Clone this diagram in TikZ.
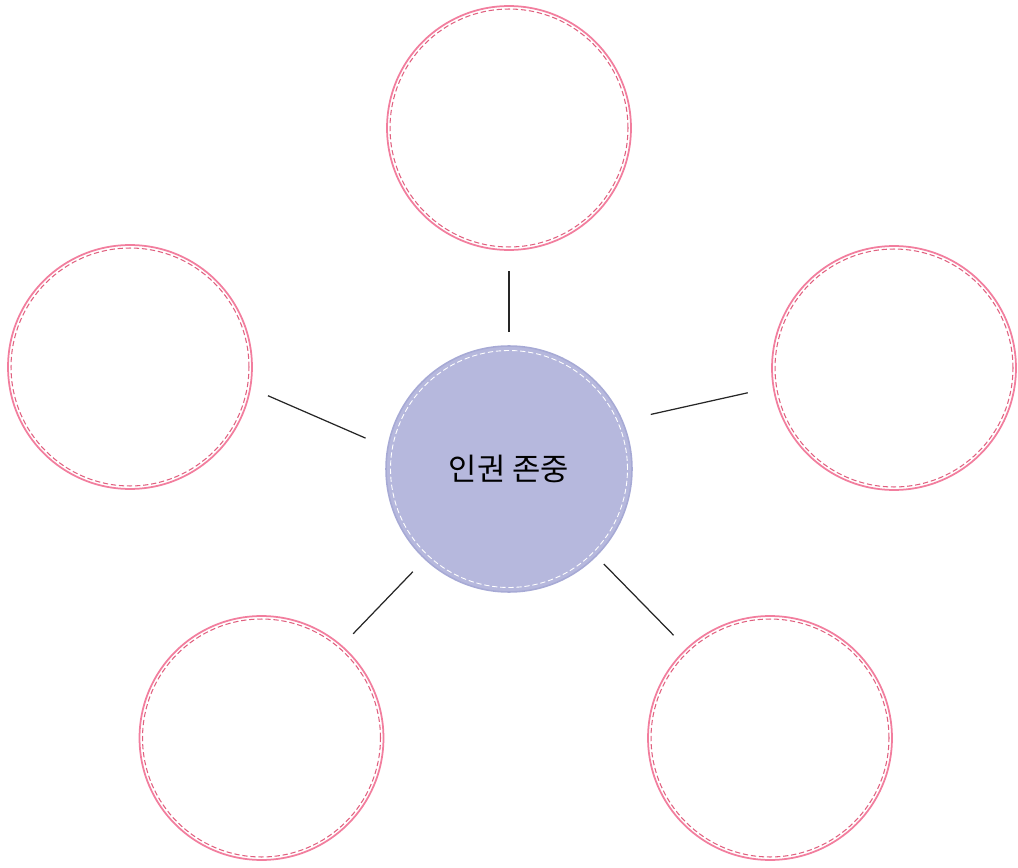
\documentclass[tikz,border=0pt]{standalone}
\usepackage{fontspec}
\newfontfamily\korfont{Noto Sans CJK KR}
\usetikzlibrary{positioning}
\definecolor{pinkring}{HTML}{F27E9E}
\definecolor{pinkdash}{HTML}{E0607F}
\definecolor{lavender}{HTML}{B6B8DD}
\definecolor{lavenderedge}{HTML}{A7AAD5}

\begin{document}
\begin{tikzpicture}[x=0.02cm, y=-0.02cm,
    bubble/.style={circle, draw=pinkring, line width=1pt, minimum size=4.88cm, inner sep=0pt},
    hub/.style={circle, fill=lavender, draw=lavenderedge, line width=0.9pt, minimum size=4.92cm,
        inner sep=0pt, font=\korfont\fontsize{17.5}{20}\selectfont},
    link/.style={black!85, line width=0.7pt}]
    \useasboundingbox (0,0) rectangle (1018,868);
    % center and surrounding bubbles
    \node[hub] (hub) at (509,469) {인권 존중};
    \node[bubble] (top) at (509,128) {};
    \node[bubble] (left) at (130,367) {};
    \node[bubble] (right) at (894,368) {};
    \node[bubble] (lowleft) at (261.5,738) {};
    \node[bubble] (lowright) at (770,738) {};
    % inner dashed rings
    \draw[white, line width=0.5pt, dash pattern=on 3pt off 1.6pt] (hub) circle (2.37cm);
    \foreach \n in {top,left,right,lowleft,lowright} {
        \draw[pinkdash, line width=0.6pt, dash pattern=on 3pt off 1.6pt] (\n) circle (2.38cm);
    }
    % connectors
    \draw[link, shorten <=0.26cm, shorten >=0.40cm] (hub.90) -- (top.-90);
    \draw[link, shorten <=0.47cm, shorten >=0.37cm] (hub.170) -- (left.-10);
    \draw[link, shorten <=0.57cm, shorten >=0.51cm] (hub.23) -- (right.-171);
    \draw[link, shorten <=0.34cm, shorten >=0.32cm] (hub.-133.3) -- (lowleft.49.6);
    \draw[link, shorten <=0.21cm, shorten >=0.36cm] (hub.-45.9) -- (lowright.133.8);
\end{tikzpicture}
\end{document}
